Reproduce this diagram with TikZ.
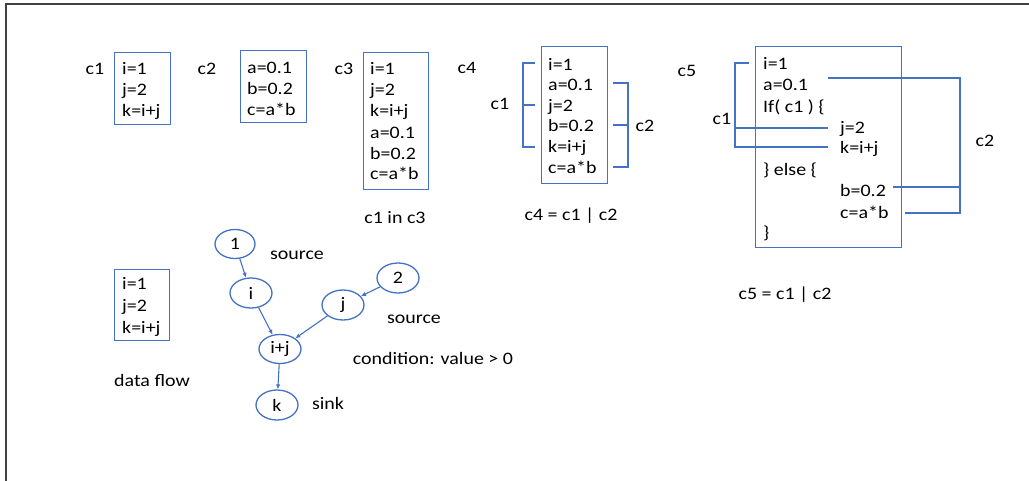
\documentclass[tikz,border=0pt]{standalone}
\usepackage{fontspec}
\setmainfont[FakeStretch=1.14]{Carlito}
\usetikzlibrary{shapes.geometric,arrows.meta}
\definecolor{lineblue}{RGB}{68,114,196}
\begin{document}
\begin{tikzpicture}[x=1pt,y=-1pt,
  txt/.style={inner sep=0pt, anchor=base west, font=\fontsize{17.5}{21}\selectfont},
  lbl/.style={inner sep=0pt, anchor=base, font=\fontsize{17.5}{21}\selectfont},
  box/.style={draw=lineblue, line width=1.3pt, inner sep=0pt, anchor=north west},
  brk/.style={draw=lineblue, line width=1.3pt},
  gnode/.style={ellipse, draw=lineblue, line width=1.3pt, minimum width=42pt, minimum height=30pt, inner sep=0pt, font=\fontsize{17.5}{21}\selectfont},
  flow/.style={draw=lineblue, line width=1.1pt, -{Latex[length=5pt,width=4.5pt]}}
]
\useasboundingbox (0,0) rectangle (1029,480);
\fill[white] (0,0) rectangle (1029,480);
\draw[line width=2.2pt, black!75] (6,482) -- (6,4) -- (1031,4);

% c1
\node[lbl] (c1lab) at (95,74) {c1};
\node[box, minimum width=56pt, minimum height=72pt] (c1box) at (114,52) {};
\node[txt] (c1a) at (122,74) {i=1};
\node[txt] (c1b) at (122,95) {j=2};
\node[txt] (c1c) at (122,116) {k=i+j};

% c2
\node[lbl] (c2lab) at (207,74) {c2};
\node[box, minimum width=66pt, minimum height=72pt] (c2box) at (240,50) {};
\node[txt] (c2a) at (247,73) {a=0.1};
\node[txt] (c2b) at (247,94) {b=0.2};
\node[txt] (c2c) at (247,115) {c=a*b};

% c3
\node[lbl] (c3lab) at (344,74) {c3};
\node[box, minimum width=65pt, minimum height=137pt] (c3box) at (363,52) {};
\node[txt] (c3a) at (370,74) {i=1};
\node[txt] (c3b) at (370,95) {j=2};
\node[txt] (c3c) at (370,116) {k=i+j};
\node[txt] (c3d) at (370,138) {a=0.1};
\node[txt] (c3e) at (370,159) {b=0.2};
\node[txt] (c3f) at (370,179) {c=a*b};
\node[lbl] (c3cap) at (395,223) {c1 in c3};

% c4
\node[lbl] (c4lab) at (467,73) {c4};
\node[box, minimum width=66pt, minimum height=137pt] (c4box) at (541,46) {};
\node[txt] (c4a) at (548,70) {i=1};
\node[txt] (c4b) at (548,90) {a=0.1};
\node[txt] (c4c) at (548,111) {j=2};
\node[txt] (c4d) at (548,131) {b=0.2};
\node[txt] (c4e) at (548,152) {k=i+j};
\node[txt] (c4f) at (548,173) {c=a*b};
\node[lbl] (c4c1) at (500,109) {c1};
\node[lbl] (c4c2) at (645,131) {c2};
\draw[brk] (535,63) -- (523,63) -- (523,147) -- (535,147);
\draw[brk] (523,105) -- (535,105);
\draw[brk] (613,83) -- (628,83) -- (628,167) -- (613,167);
\draw[brk] (613,125) -- (628,125);
\node[lbl] (c4cap) at (571,220) {c4 = c1 | c2};

% c5
\node[lbl] (c5lab) at (687,76) {c5};
\node[box, minimum width=146pt, minimum height=201pt] (c5box) at (755,46) {};
\node[txt] (c5a) at (763,69) {i=1};
\node[txt] (c5b) at (763,90) {a=0.1};
\node[txt] (c5c) at (763,112) {If( c1 ) \{};
\node[txt] (c5d) at (840,133) {j=2};
\node[txt] (c5e) at (840,153) {k=i+j};
\node[txt] (c5f) at (763,175) {\} else \{};
\node[txt] (c5g) at (840,196) {b=0.2};
\node[txt] (c5h) at (840,218) {c=a*b};
\node[txt] (c5i) at (763,238) {\}};
\node[lbl] (c5c1) at (722,124) {c1};
\node[lbl] (c5c2) at (985,146) {c2};
\draw[brk] (749,63) -- (735,63) -- (735,147) -- (828,147);
\draw[brk] (735,128) -- (828,128);
\draw[brk] (828,78) -- (960,78) -- (960,213) -- (905,213);
\draw[brk] (893,187) -- (960,187);
\node[lbl] (c5cap) at (785,299) {c5 = c1 | c2};

% data flow
\node[box, minimum width=55pt, minimum height=71pt] (dfbox) at (114,269) {};
\node[txt] (dfa) at (122,289) {i=1};
\node[txt] (dfb) at (122,311) {j=2};
\node[txt] (dfc) at (122,333) {k=i+j};
\node[lbl] (dflab) at (152,386) {data flow};

\node[gnode, minimum width=40pt, minimum height=29pt] (n1) at (235,244) {1};
\node[gnode] (ni) at (251,293) {i};
\node[gnode] (nj) at (343,305) {j};
\node[gnode] (n2) at (398,278) {2};
\node[gnode, minimum height=29pt] (nij) at (280,349) {i+j};
\node[gnode] (nk) at (277,405) {k};
\draw[flow] (n1) -- (ni);
\draw[flow] (ni) -- (nij);
\draw[flow] (nj) -- (nij);
\draw[flow] (n2) -- (nj);
\draw[flow] (nij) -- (nk);
\node[lbl] (src1) at (297,259) {source};
\node[lbl] (src2) at (414,323) {source};
\node[lbl] (cond) at (433,364) {condition: value > 0};
\node[lbl] (sink) at (328,409) {sink};
\end{tikzpicture}
\end{document}
